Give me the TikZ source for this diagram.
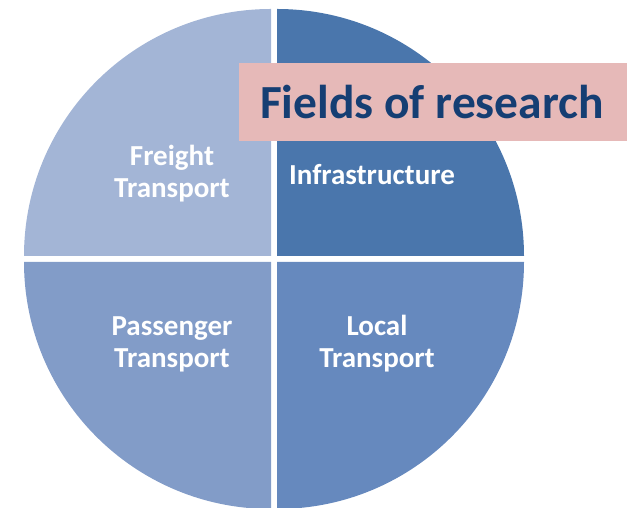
\documentclass[tikz,border=0pt]{standalone}
\usepackage{fontspec}
\setmainfont{Carlito}
\definecolor{qtl}{HTML}{A3B5D6}
\definecolor{qtr}{HTML}{4A76AC}
\definecolor{qbl}{HTML}{829CC8}
\definecolor{qbr}{HTML}{6689BE}
\definecolor{titlebg}{HTML}{E6B9B8}
\definecolor{titlefg}{HTML}{153E73}
\begin{document}
\begin{tikzpicture}[x=1pt,y=1pt,
  lbl/.style={text=white,font=\bfseries\fontsize{29}{32}\selectfont,align=center,inner sep=0pt},
  ttl/.style={text=titlefg,font=\bfseries\fontsize{47.5}{52}\selectfont,inner sep=0pt}]
\useasboundingbox (0,0) rectangle (627,508);
\fill[qtl] (271,252) -- ++(-247,0) arc[start angle=180,end angle=90,radius=247] -- cycle;
\fill[qtr] (277,252) -- ++(0,247) arc[start angle=90,end angle=0,radius=247] -- cycle;
\fill[qbl] (271,246) -- ++(0,-247) arc[start angle=270,end angle=180,radius=247] -- cycle;
\fill[qbr] (277,246) -- ++(247,0) arc[start angle=0,end angle=-90,radius=247] -- cycle;
\node[lbl] (freight) at (172,334) {Freight\\Transport};
\node[lbl] (infra) at (372,333) {Infrastructure};
\node[lbl] (pass) at (172,164) {Passenger\\Transport};
\node[lbl] (local) at (377,164) {Local\\Transport};
\fill[titlebg] (239,367) rectangle (627,445);
\node[ttl] (title) at (432,406) {Fields of research};
\end{tikzpicture}
\end{document}
